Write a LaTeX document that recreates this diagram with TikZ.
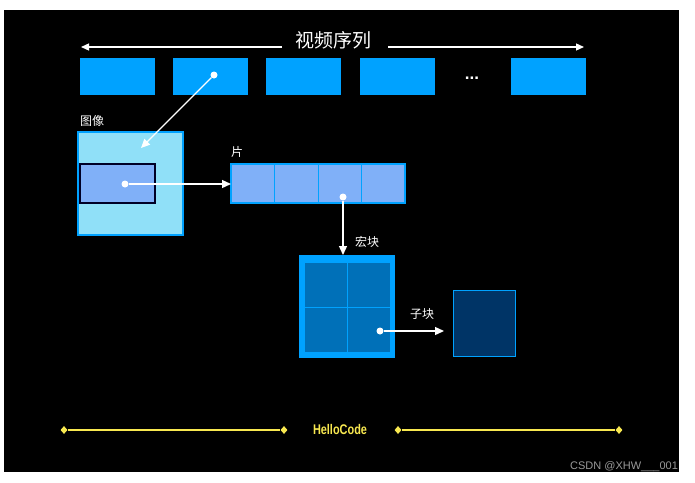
\documentclass[tikz,border=0pt]{standalone}
\usepackage{fontspec}
\setmainfont{Liberation Sans}
\newfontfamily\cjk{Noto Sans CJK SC}
\usetikzlibrary{arrows.meta,shapes.geometric}
\definecolor{frameblue}{HTML}{00A2FF}
\definecolor{imgcyan}{HTML}{90E0F8}
\definecolor{slicecol}{HTML}{80B0F8}
\definecolor{mbinner}{HTML}{0070B8}
\definecolor{subcol}{HTML}{003466}
\definecolor{hlyellow}{HTML}{F8E850}
\tikzset{
  frame/.style={fill=frameblue,draw=none,minimum width=75pt,minimum height=37pt,inner sep=0pt},
  lbl/.style={text=white,font=\cjk\fontsize{12}{14}\selectfont,inner sep=0pt},
  conn/.style={draw=white,line width=1.3pt,-{Triangle[length=9pt,width=8pt]}},
  dotc/.style={circle,fill=white,inner sep=0pt,minimum size=7pt},
  ydia/.style={diamond,fill=hlyellow,inner sep=0pt,minimum width=7pt,minimum height=8pt},
  yline/.style={draw=hlyellow,line width=1.2pt}
}
\begin{document}
\begin{tikzpicture}[x=1pt,y=-1pt]
\useasboundingbox (0,0) rectangle (695,482);
\fill[white] (0,0) rectangle (695,482);
\fill[black] (4,10) rectangle (679,472);
% title
\node[text=white,font=\cjk\fontsize{19}{21}\selectfont,inner sep=0pt] (title) at (333,40) {视频序列};
\coordinate (tl) at (81,47);
\coordinate (tr) at (584,47);
\draw[draw=white,line width=1.3pt,-{Triangle[length=8pt,width=7pt]}] (282,47) -- (tl);
\draw[draw=white,line width=1.3pt,-{Triangle[length=8pt,width=7pt]}] (388,47) -- (tr);
% frames
\node[frame] (f1) at (117.5,76.5) {};
\node[frame] (f2) at (210.5,76.5) {};
\node[frame] (f3) at (303.5,76.5) {};
\node[frame] (f4) at (397.5,76.5) {};
\node[text=white,font=\bfseries\fontsize{17}{19}\selectfont,inner sep=0pt] (dots) at (472,78) {...};
\node[frame] (f5) at (548.5,76.5) {};
% image
\node[lbl,anchor=west] (imglbl) at (80,121) {图像};
\draw[fill=imgcyan,draw=frameblue,line width=1.2pt] (78,132) rectangle (183,235);
\node[fill=slicecol,draw=black!85!blue,line width=1.2pt,minimum width=75pt,minimum height=39pt,inner sep=0pt] (inner) at (117.5,183.5) {};
\node[dotc] (d1) at (214,75) {};
\coordinate (imgtarget) at (141,148);
\draw[conn] (d1) -- (imgtarget);
% slice
\node[lbl,anchor=west] (slicelbl) at (231,152) {片};
\draw[fill=slicecol,draw=frameblue,line width=1.2pt] (231,164) rectangle (405,203);
\foreach \xx in {274.5,318.5,361.5} \draw[draw=frameblue,line width=1.2pt] (\xx,164) -- (\xx,203);
\coordinate (slicein) at (231,184);
\node[dotc] (d2) at (125,184) {};
\draw[conn] (d2) -- (slicein);
% macroblock
\node[dotc] (d3) at (343,197) {};
\node[lbl,anchor=west] (mblbl) at (355,242) {宏块};
\fill[frameblue] (299,255) rectangle (395,358);
\fill[mbinner] (305,263) rectangle (390,352);
\draw[draw=frameblue,line width=1pt] (347.5,263) -- (347.5,352);
\draw[draw=frameblue,line width=1pt] (305,307.5) -- (390,307.5);
\coordinate (mbtop) at (343,255);
\draw[conn] (d3) -- (mbtop);
% sub-block
\node[lbl] (sublbl) at (422,314) {子块};
\node[fill=subcol,draw=frameblue,line width=1.2pt,minimum width=62pt,minimum height=66pt,inner sep=0pt] (sub) at (484.5,323.5) {};
\node[dotc] (d4) at (380,331) {};
\coordinate (subin) at (444,331);
\draw[conn] (d4) -- (subin);
% bottom
\node[ydia] (y1) at (64,430) {};
\node[ydia] (y2) at (284,430) {};
\node[ydia] (y3) at (398,430) {};
\node[ydia] (y4) at (619,430) {};
\draw[yline] (y1) -- (y2);
\draw[yline] (y3) -- (y4);
\node[text=hlyellow,font=\bfseries\fontsize{14}{16}\selectfont,inner sep=0pt,xscale=0.78] (hello) at (340,429) {HelloCode};
% watermark
\node[text=black!40,font=\fontsize{11}{13}\selectfont,anchor=west,inner sep=0pt] (wm) at (570,467) {CSDN @XHW\_\_\_001};
\end{tikzpicture}
\end{document}
